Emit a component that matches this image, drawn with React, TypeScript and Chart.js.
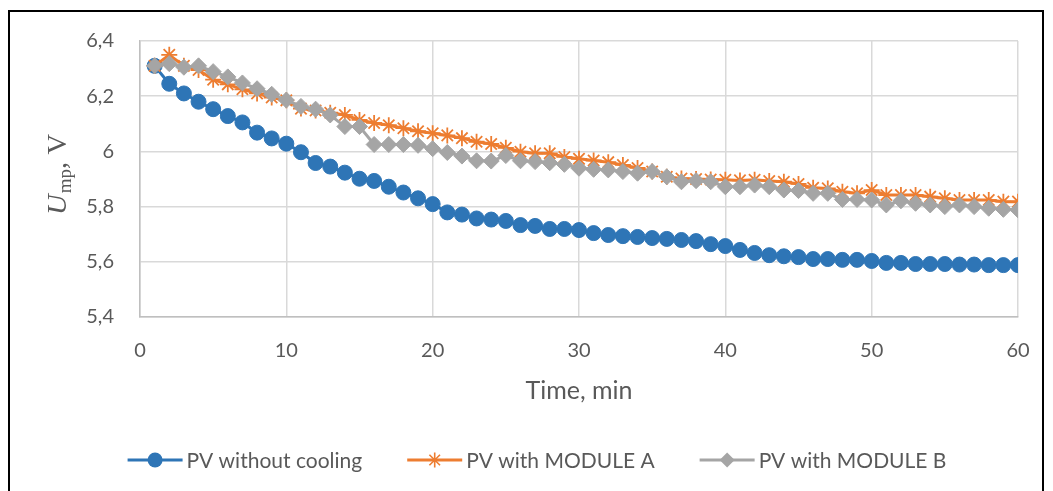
import React, { useEffect, useRef } from "react";
import { Chart, registerables } from "chart.js";

Chart.register(...registerables);

// Time axis (minutes)
const minutes = [
  1, 2, 3, 4, 5, 6, 7, 8, 9, 10, 11, 12, 13, 14, 15, 16, 17, 18, 19, 20,
  21, 22, 23, 24, 25, 26, 27, 28, 29, 30, 31, 32, 33, 34, 35, 36, 37, 38, 39, 40,
  41, 42, 43, 44, 45, 46, 47, 48, 49, 50, 51, 52, 53, 54, 55, 56, 57, 58, 59, 60,
];

// Maximum-power-point voltage, V
const pvWithoutCooling = [
  6.31, 6.245, 6.21, 6.18, 6.153, 6.128, 6.105, 6.068, 6.047, 6.028,
  5.997, 5.958, 5.945, 5.923, 5.901, 5.893, 5.872, 5.851, 5.83, 5.809,
  5.779, 5.771, 5.757, 5.753, 5.748, 5.733, 5.73, 5.719, 5.719, 5.715,
  5.704, 5.697, 5.693, 5.69, 5.686, 5.683, 5.679, 5.675, 5.664, 5.657,
  5.643, 5.632, 5.624, 5.62, 5.617, 5.61, 5.61, 5.607, 5.607, 5.603,
  5.596, 5.596, 5.592, 5.592, 5.592, 5.59, 5.59, 5.588, 5.588, 5.588,
];

const pvModuleA = [
  6.31, 6.35, 6.31, 6.295, 6.26, 6.243, 6.225, 6.21, 6.195, 6.185,
  6.155, 6.148, 6.14, 6.132, 6.114, 6.103, 6.095, 6.084, 6.073, 6.066,
  6.058, 6.048, 6.035, 6.027, 6.013, 5.999, 5.993, 5.993, 5.98, 5.973,
  5.967, 5.961, 5.951, 5.94, 5.927, 5.908, 5.902, 5.9, 5.898, 5.897,
  5.895, 5.897, 5.893, 5.89, 5.882, 5.868, 5.866, 5.854, 5.848, 5.86,
  5.842, 5.842, 5.842, 5.836, 5.83, 5.824, 5.824, 5.824, 5.818, 5.818,
];

const pvModuleB = [
  6.31, 6.318, 6.305, 6.31, 6.289, 6.27, 6.248, 6.227, 6.207, 6.186,
  6.163, 6.153, 6.132, 6.09, 6.09, 6.025, 6.025, 6.025, 6.022, 6.01,
  5.996, 5.983, 5.966, 5.965, 5.985, 5.966, 5.963, 5.959, 5.953, 5.939,
  5.935, 5.933, 5.927, 5.921, 5.927, 5.908, 5.89, 5.894, 5.89, 5.872,
  5.872, 5.878, 5.872, 5.86, 5.858, 5.848, 5.848, 5.826, 5.826, 5.824,
  5.806, 5.821, 5.812, 5.806, 5.8, 5.806, 5.8, 5.794, 5.79, 5.788,
];

const seriesNames = ["PV without cooling", "PV with MODULE A", "PV with MODULE B"];
const seriesColors = ["#2E75B6", "#ED7D31", "#A5A5A5"];
const seriesMarkers = ["circle", "star", "rectRot"] as const;

const xTitle = "Time, min";
const textColor = "#595959";
const sansFont = "Lato, 'Liberation Sans', sans-serif";

const toPoints = (ys: number[]) => minutes.map((x, i) => ({ x, y: ys[i] }));

function drawMarker(
  ctx: CanvasRenderingContext2D,
  kind: string,
  x: number,
  y: number,
  r: number,
  color: string
) {
  ctx.save();
  ctx.fillStyle = color;
  ctx.strokeStyle = color;
  ctx.lineWidth = 1.6;
  ctx.beginPath();
  if (kind === "circle") {
    ctx.arc(x, y, r, 0, Math.PI * 2);
    ctx.fill();
  } else if (kind === "rectRot") {
    ctx.moveTo(x, y - r);
    ctx.lineTo(x + r, y);
    ctx.lineTo(x, y + r);
    ctx.lineTo(x - r, y);
    ctx.closePath();
    ctx.fill();
  } else {
    for (let k = 0; k < 4; k++) {
      const a = (k * Math.PI) / 4;
      ctx.moveTo(x - Math.cos(a) * r, y - Math.sin(a) * r);
      ctx.lineTo(x + Math.cos(a) * r, y + Math.sin(a) * r);
    }
    ctx.stroke();
  }
  ctx.restore();
}

// Y-axis title with italic U and subscript "mp", plus a line-and-marker legend
const annotationsPlugin = {
  id: "annotations",
  afterDraw(chart: Chart) {
    const { ctx, chartArea } = chart;

    // rotated y-axis title
    ctx.save();
    const cy = (chartArea.top + chartArea.bottom) / 2 - 4;
    ctx.translate(53, cy);
    ctx.rotate(-Math.PI / 2);
    ctx.scale(1.06, 1);
    ctx.fillStyle = textColor;
    ctx.textBaseline = "alphabetic";
    const bigFont = "italic 27px 'Liberation Serif', 'DejaVu Serif', serif";
    const subFont = "18px 'Liberation Serif', 'DejaVu Serif', serif";
    const tailFont = "27px 'Liberation Serif', 'DejaVu Serif', serif";
    ctx.font = bigFont;
    const wU = ctx.measureText("U").width;
    ctx.font = subFont;
    const wSub = ctx.measureText("mp").width;
    ctx.font = tailFont;
    const wTail = ctx.measureText(", V").width;
    let px = -(wU + wSub + wTail) / 2;
    const base = 13;
    ctx.font = bigFont;
    ctx.fillText("U", px, base);
    px += wU + 1;
    ctx.font = subFont;
    ctx.fillText("mp", px, base + 5);
    px += wSub;
    ctx.font = tailFont;
    ctx.fillText(", V", px, base);
    ctx.restore();

    // legend
    ctx.save();
    ctx.font = `21px ${sansFont}`;
    ctx.textBaseline = "middle";
    const lineLen = 55;
    const gapText = 4;
    const gapItem = 45;
    const widths = seriesNames.map((n) => lineLen + gapText + ctx.measureText(n).width);
    const total = widths.reduce((a, b) => a + b, 0) + gapItem * (widths.length - 1);
    let lx = 537 - total / 2;
    const ly = 460;
    seriesNames.forEach((name, i) => {
      ctx.strokeStyle = seriesColors[i];
      ctx.lineWidth = 3;
      ctx.beginPath();
      ctx.moveTo(lx, ly);
      ctx.lineTo(lx + lineLen, ly);
      ctx.stroke();
      drawMarker(ctx, seriesMarkers[i], lx + lineLen / 2, ly, 7.5, seriesColors[i]);
      ctx.fillStyle = textColor;
      ctx.fillText(name, lx + lineLen + gapText, ly + 1);
      lx += widths[i] + gapItem;
    });
    ctx.restore();
  },
};

export default function App() {
  const canvasRef = useRef<HTMLCanvasElement | null>(null);

  useEffect(() => {
    if (!canvasRef.current) return;
    const seriesValues = [pvWithoutCooling, pvModuleA, pvModuleB];
    const chart = new Chart(canvasRef.current, {
      type: "line",
      data: {
        datasets: seriesNames.map((label, i) => ({
          label,
          data: toPoints(seriesValues[i]),
          borderColor: seriesColors[i],
          backgroundColor: seriesColors[i],
          borderWidth: 3,
          pointStyle: seriesMarkers[i],
          pointRadius: i === 0 ? 7.5 : 8,
          pointBorderWidth: i === 1 ? 1.8 : 1,
          pointBackgroundColor: seriesColors[i],
          pointBorderColor: seriesColors[i],
          tension: 0,
          order: 2 - i,
        })),
      },
      options: {
        animation: false,
        responsive: false,
        maintainAspectRatio: false,
        layout: { padding: { left: 0, right: 35, top: 41, bottom: 85 } },
        plugins: {
          legend: { display: false },
          tooltip: { enabled: false },
        },
        scales: {
          x: {
            type: "linear",
            min: 0,
            max: 60,
            afterFit: (scale: any) => {
              scale.height = 89;
            },
            ticks: {
              stepSize: 10,
              padding: 22,
              color: textColor,
              font: { family: sansFont, size: 20 },
            },
            grid: { color: "#D9D9D9", lineWidth: 1.5, drawTicks: false },
            border: { color: "#BFBFBF", width: 1.5 },
            title: {
              display: true,
              text: xTitle,
              color: textColor,
              font: { family: sansFont, size: 25 },
              padding: { top: 0, bottom: 0 },
            },
          },
          y: {
            min: 5.4,
            max: 6.4,
            afterFit: (scale: any) => {
              scale.width = 140;
            },
            ticks: {
              stepSize: 0.2,
              padding: 26,
              color: textColor,
              font: { family: sansFont, size: 20 },
              callback: (v: any) => String(Math.round(Number(v) * 10) / 10).replace(".", ","),
            },
            grid: { color: "#D9D9D9", lineWidth: 1.5, drawTicks: false },
            border: { color: "#BFBFBF", width: 1.5 },
          },
        },
      },
      plugins: [annotationsPlugin],
    });
    return () => chart.destroy();
  }, []);

  return (
    <div style={{ position: "fixed", left: 0, top: 0, width: 1053, height: 491, background: "#fff" }}>
      <canvas ref={canvasRef} width={1053} height={491} style={{ position: "absolute", left: 0, top: 0 }} />
      <div
        style={{
          position: "absolute",
          left: 8,
          top: 10,
          width: 1036,
          height: 500,
          border: "2px solid #000",
          boxSizing: "border-box",
          pointerEvents: "none",
        }}
      />
    </div>
  );
}
